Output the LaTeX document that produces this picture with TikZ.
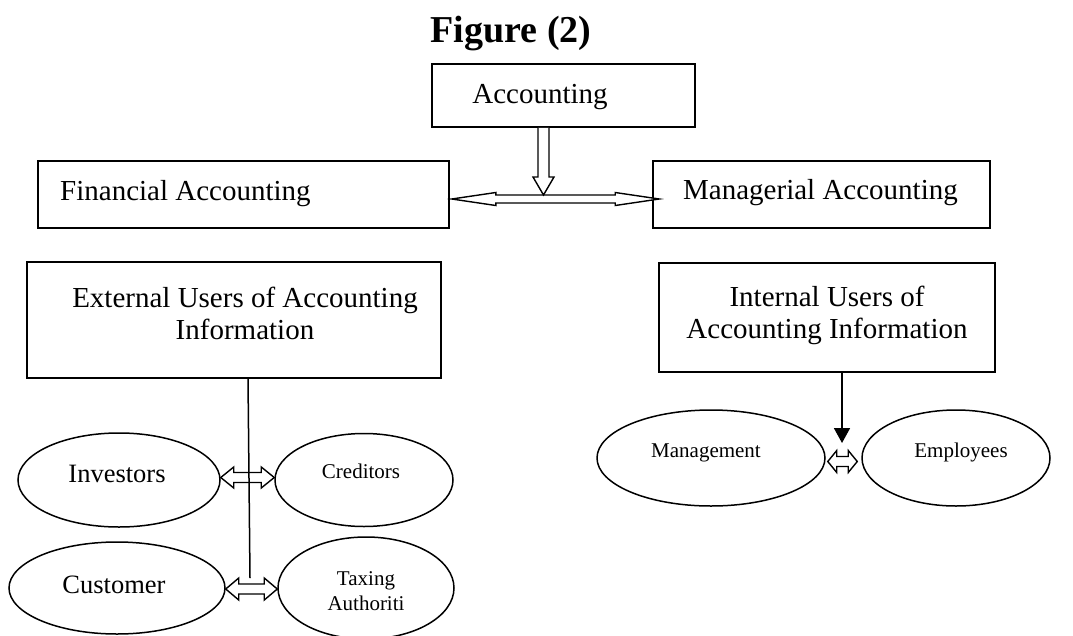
\documentclass[tikz,border=0pt]{standalone}
\usepackage{fontspec}
\setmainfont{Liberation Serif}
\usetikzlibrary{arrows.meta,calc,shapes.geometric}
\newcommand{\hollowH}[5]{%
  \draw[arrowline] let \p1=#1, \p2=#2 in
    (\x1,\y1) -- ++(#4,#5) -- ++(0,#3-#5) -- (\x2-#4,\y1+#3) -- ++(0,#5-#3)
    -- (\x2,\y1) -- ++(-#4,-#5) -- ++(0,#5-#3) -- (\x1+#4,\y1-#3) -- ++(0,#3-#5) -- cycle;}
\begin{document}
\begin{tikzpicture}[x=1pt,y=-1pt,
  box/.style={draw,line width=1.6pt,rectangle,inner sep=0pt},
  oval/.style={draw,line width=1.5pt,ellipse,inner sep=0pt},
  bigtxt/.style={font=\fontsize{29}{34}\selectfont,inner sep=0pt},
  midtxt/.style={font=\fontsize{26.5}{32}\selectfont,inner sep=0pt},
  smalltxt/.style={font=\fontsize{21}{25}\selectfont,inner sep=0pt},
  arrowline/.style={draw,line width=1.4pt,fill=white,line join=miter}]
\useasboundingbox (0,0) rectangle (1073,635);

% title
\node[anchor=base,inner sep=0pt,font=\fontsize{38}{44}\selectfont\bfseries] (title) at (511,42) {Figure (2)};

% boxes
\node[box,minimum width=263pt,minimum height=63pt] (acc) at (563.5,95.5) {};
\node[box,minimum width=411pt,minimum height=67pt] (fin) at (243.5,194.5) {};
\node[box,minimum width=337pt,minimum height=67pt] (man) at (821.5,194.5) {};
\node[box,minimum width=414pt,minimum height=116pt] (ext) at (234,320) {};
\node[box,minimum width=336pt,minimum height=109pt] (int) at (827,317.5) {};

% box texts
\node[bigtxt,anchor=base] (accT) at (540,103) {Accounting};
\node[bigtxt,anchor=base west] (finT) at (60,200) {Financial Accounting};
\node[bigtxt,anchor=base west] (manT) at (683,199) {Managerial Accounting};
\node[bigtxt,anchor=base] (extT1) at (245,307) {External Users of Accounting};
\node[bigtxt,anchor=base] (extT2) at (245,339) {Information};
\node[bigtxt,anchor=base] (intT1) at (827,306) {Internal Users of};
\node[bigtxt,anchor=base] (intT2) at (827,338) {Accounting Information};

% ellipses
\node[oval,minimum width=202pt,minimum height=94pt] (inv) at (119,480) {};
\node[oval,minimum width=178pt,minimum height=93pt] (cred) at (364,480) {};
\node[oval,minimum width=216pt,minimum height=92pt] (cust) at (117,588) {};
\node[oval,minimum width=176pt,minimum height=102pt] (tax) at (366,588) {};
\node[oval,minimum width=228pt,minimum height=96pt] (mgmt) at (711,458) {};
\node[oval,minimum width=188pt,minimum height=96pt] (emp) at (956,458) {};

% ellipse texts
\node[midtxt,anchor=base] (invT) at (117,482) {Investors};
\node[midtxt,anchor=base] (custT) at (114,593) {Customer};
\node[smalltxt,anchor=base] (credT) at (361,478) {Creditors};
\node[smalltxt,anchor=base] (taxT1) at (366,585) {Taxing};
\node[smalltxt,anchor=base] (taxT2) at (366,610) {Authoriti};
\node[smalltxt,anchor=base] (mgmtT) at (706,457) {Management};
\node[smalltxt,anchor=base] (empT) at (961,457) {Employees};

% big hollow double arrow
\hollowH{([xshift=2pt,yshift=-4.5pt]fin.east)}{([xshift=7pt]man.west)}{4pt}{44pt}{6.5pt}

% hollow down arrow from Accounting
\coordinate (vtip) at (543.5,195);
\draw[arrowline] let \p1=([xshift=-20pt]acc.south), \p2=(vtip) in
  (\x1-5.5pt,\y1) -- (\x1-5.5pt,\y2+18pt) -- (\x1-10.5pt,\y2+18pt) -- (\x1,\y2)
  -- (\x1+10.5pt,\y2+18pt) -- (\x1+5.5pt,\y2+18pt) -- (\x1+5.5pt,\y1);

% small hollow double arrows
\hollowH{([yshift=2.5pt]inv.east)}{(cred.west)}{5pt}{13pt}{10.5pt}
\hollowH{([yshift=-1pt]cust.east)}{(tax.west)}{5pt}{13pt}{11pt}
\hollowH{([xshift=2pt,yshift=-3.5pt]mgmt.east)}{([xshift=-4pt]emp.west)}{5pt}{9pt}{11pt}

% line from External box
\coordinate (extEnd) at (250,578);
\draw[line width=1.5pt] ([xshift=14pt]ext.south) -- (extEnd);

% arrow from Internal box
\coordinate (intEnd) at (842,443);
\draw[line width=1.8pt,-{Triangle[length=15pt,width=16pt]}] ([xshift=15pt]int.south) -- (intEnd);
\end{tikzpicture}
\end{document}
